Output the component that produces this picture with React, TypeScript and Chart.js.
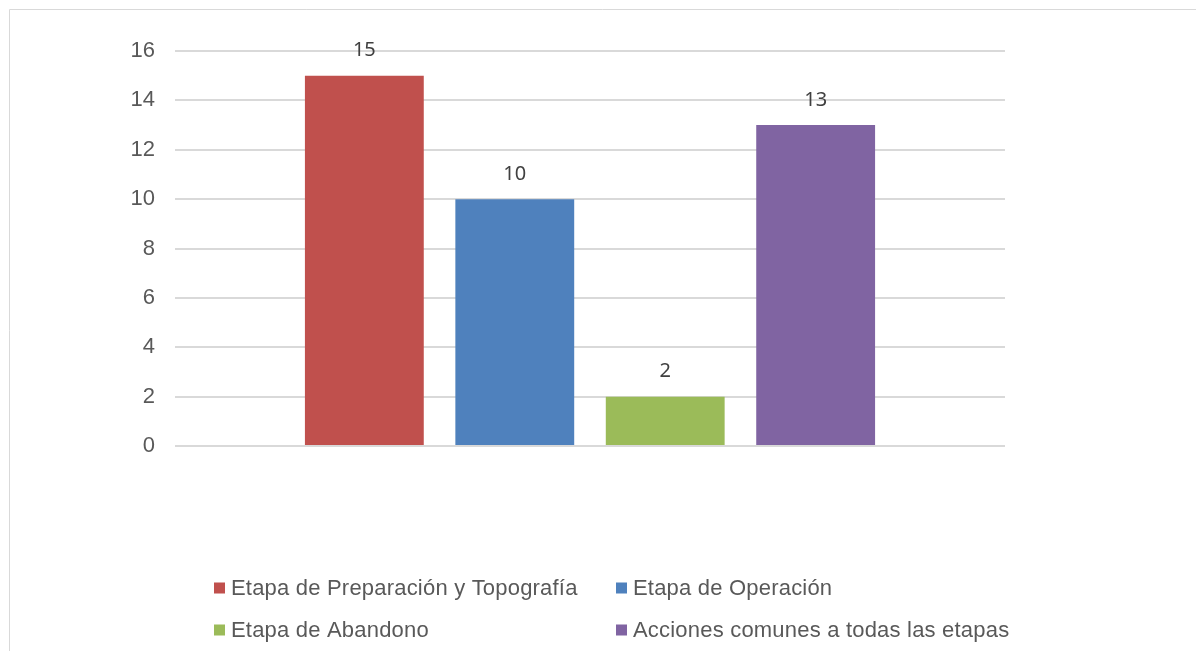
import { useEffect, useRef } from "react";
import { Chart, registerables } from "chart.js";

Chart.register(...registerables);

// Data
const categories = [""];
const seriesNames = [
  "Etapa de Preparación y Topografía",
  "Etapa de Operación",
  "Etapa de Abandono",
  "Acciones comunes a todas las etapas",
];
const seriesValues = [15, 10, 2, 13];
const seriesColors = ["#c0504d", "#4f81bd", "#9bbb59", "#8064a2"];
const yMin = 0;
const yMax = 16;
const yStep = 2;

const TEXT_GRAY = "#595959";
const GRID_GRAY = "#d9d9d9";

// Light frame around the chart (top and left edges)
const framePlugin = {
  id: "frame",
  beforeDraw(chart: any) {
    const { ctx, width, height } = chart;
    ctx.save();
    ctx.strokeStyle = GRID_GRAY;
    ctx.lineWidth = 1;
    ctx.beginPath();
    ctx.moveTo(9.5, height);
    ctx.lineTo(9.5, 9.5);
    ctx.lineTo(width, 9.5);
    ctx.stroke();
    ctx.restore();
  },
};

// Value labels above each bar
const valueLabelPlugin = {
  id: "valueLabels",
  afterDatasetsDraw(chart: any) {
    const { ctx } = chart;
    ctx.save();
    ctx.font = '20px "Noto Sans", sans-serif';
    ctx.fillStyle = "#404040";
    ctx.textAlign = "center";
    ctx.textBaseline = "middle";
    chart.data.datasets.forEach((ds: any, i: number) => {
      const meta = chart.getDatasetMeta(i);
      meta.data.forEach((bar: any, j: number) => {
        ctx.fillText(String(ds.data[j]), bar.x, bar.y - 25);
      });
    });
    ctx.restore();
  },
};

// Two-column legend below the plot
const gridLegendPlugin = {
  id: "gridLegend",
  afterDraw(chart: any) {
    const { ctx } = chart;
    const colX = [214, 616];
    const rowY = [588, 630];
    const box = 11;
    ctx.save();
    ctx.font = '22px "Liberation Sans", Arial, sans-serif';
    (ctx as any).letterSpacing = "0.2px";
    ctx.textAlign = "left";
    ctx.textBaseline = "middle";
    chart.data.datasets.forEach((ds: any, i: number) => {
      const x = colX[i % 2];
      const y = rowY[Math.floor(i / 2)];
      ctx.fillStyle = ds.backgroundColor;
      ctx.fillRect(x, y - box / 2, box, box);
      ctx.fillStyle = TEXT_GRAY;
      ctx.fillText(ds.label, x + box + 6, y + 1);
    });
    ctx.restore();
  },
};

export default function App() {
  const canvasRef = useRef<HTMLCanvasElement | null>(null);

  useEffect(() => {
    const canvas = canvasRef.current;
    if (!canvas) return;
    const chart = new Chart(canvas, {
      type: "bar",
      data: {
        labels: categories,
        datasets: seriesNames.map((name, i) => ({
          label: name,
          data: [seriesValues[i]],
          backgroundColor: seriesColors[i],
          borderWidth: 0,
          categoryPercentage: 0.725,
          barPercentage: 0.79,
        })),
      },
      options: {
        responsive: false,
        animation: false,
        layout: {
          padding: { left: 115, right: 191, top: 51, bottom: 205 },
        },
        plugins: {
          legend: { display: false },
          tooltip: { enabled: false },
          title: { display: false },
        },
        scales: {
          x: { display: false },
          y: {
            min: yMin,
            max: yMax,
            ticks: {
              stepSize: yStep,
              color: TEXT_GRAY,
              padding: 20,
              font: { size: 22, family: '"Liberation Sans", Arial, sans-serif' },
            },
            grid: {
              color: GRID_GRAY,
              lineWidth: 2,
              drawTicks: false,
            },
            border: { display: false },
            afterFit(scale: any) {
              scale.width = 60;
            },
          },
        },
      },
      plugins: [framePlugin, valueLabelPlugin, gridLegendPlugin],
    });
    return () => chart.destroy();
  }, []);

  return (
    <canvas
      ref={canvasRef}
      width={1196}
      height={651}
      style={{ position: "fixed", left: 0, top: 0, width: 1196, height: 651, background: "#fff" }}
    />
  );
}
